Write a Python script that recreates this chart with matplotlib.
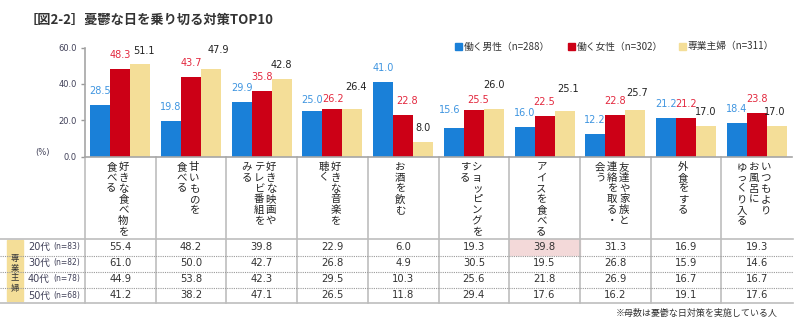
import numpy as np
import matplotlib.pyplot as plt
from matplotlib.transforms import blended_transform_factory
from matplotlib.patches import Rectangle
from matplotlib.lines import Line2D

plt.rcParams['font.family'] = ['DejaVu Sans', 'Noto Sans CJK JP']

# 対策ごとの縦書きラベル（右の列から）
labels = [
    ["好きな食べ物を", "食べる"],
    ["甘いものを", "食べる"],
    ["好きな映画や", "テレビ番組を", "みる"],
    ["好きな音楽を", "聴く"],
    ["お酒を飲む"],
    ["ショッピングを", "する"],
    ["アイスを食べる"],
    ["友達や家族と", "連絡を取る・", "会う"],
    ["外食をする"],
    ["いつもより", "お風呂に", "ゆっくり入る"],
]
series_names = ["働く男性（n=288）", "働く女性（n=302）", "専業主婦（n=311）"]
male = [28.5, 19.8, 29.9, 25.0, 41.0, 15.6, 16.0, 12.2, 21.2, 18.4]
female = [48.3, 43.7, 35.8, 26.2, 22.8, 25.5, 22.5, 22.8, 21.2, 23.8]
housewife = [51.1, 47.9, 42.8, 26.4, 8.0, 26.0, 25.1, 25.7, 17.0, 17.0]

# 専業主婦の年代別
age_rows = ["20代", "30代", "40代", "50代"]
age_n = ["(n=83)", "(n=82)", "(n=78)", "(n=68)"]
age_values = [
    [55.4, 48.2, 39.8, 22.9, 6.0, 19.3, 39.8, 31.3, 16.9, 19.3],
    [61.0, 50.0, 42.7, 26.8, 4.9, 30.5, 19.5, 26.8, 15.9, 14.6],
    [44.9, 53.8, 42.3, 29.5, 10.3, 25.6, 21.8, 26.9, 16.7, 16.7],
    [41.2, 38.2, 47.1, 26.5, 11.8, 29.4, 17.6, 16.2, 19.1, 17.6],
]

W, H = 800, 326
bar_colors = ["#1a80d8", "#cc0016", "#f4de98"]
text_colors = ["#3f95e0", "#e3283e", "#222222"]
grid_col = "#bdbdbd"

# 重なりを避けるための数値ラベルの位置調整 (px)
label_nudge = {
    (0, 2): (4, 1.5), (1, 2): (7, -5), (3, 0): (0, 2.5), (3, 1): (1, 4.5),
    (3, 2): (3.5, -8), (4, 1): (4, 0), (5, 0): (-4, -4.5), (5, 1): (4.5, 3.5),
    (5, 2): (0, -10), (6, 2): (4, -8), (7, 2): (1.5, -3), (9, 2): (-1.5, 0),
}


def fx(px):
    return px / W


def fy(py):
    return 1 - py / H


fig = plt.figure(figsize=(8, 3.26), dpi=100)
ax = fig.add_axes([fx(85), fy(156.5), 707 / W, 109 / H])
px_per_unit = 70.7

x = np.arange(len(labels))
bw = 0.283
for k, vals in enumerate([male, female, housewife]):
    bars = ax.bar(x + (k - 1) * bw, vals, bw, color=bar_colors[k], zorder=2)
    for i, (b, v) in enumerate(zip(bars, vals)):
        dx, dy = label_nudge.get((i, k), (0, 0))
        ax.annotate(f"{v:.1f}", (b.get_x() + b.get_width() / 2, v),
                    xytext=(dx, 14 - dy), textcoords="offset pixels",
                    ha="center", va="center", fontsize=7,
                    color=text_colors[k], zorder=3)

ax.set_xlim(-0.5, 9.5)
ax.set_ylim(0, 60)
ax.set_yticks([0, 20, 40, 60])
ax.set_yticklabels(["0.0", "20.0", "40.0", "60.0"])
ax.tick_params(axis="y", direction="out", length=3, width=1, color="#999999",
               labelsize=6, labelcolor="#404058", pad=3)
ax.set_xticks([])
for s in ["top", "right"]:
    ax.spines[s].set_visible(False)
for s in ["left", "bottom"]:
    ax.spines[s].set_color("#a6a6a6")
    ax.spines[s].set_linewidth(1.2)
ax.patch.set_alpha(0)

fig.text(fx(42), fy(153), "(%)", fontsize=6, color="#404058",
         ha="center", va="center")

bt = blended_transform_factory(ax.transData, fig.transFigure)

# 強調セル
ax.add_patch(Rectangle((5.5, fy(255)), 1.0, fy(238.5) - fy(255),
                       transform=bt, color="#f3d9d9", clip_on=False, zorder=0))

# 表の罫線
for d in np.arange(-0.5, 9, 1.0):
    ax.add_line(Line2D([d, d], [fy(156.5), fy(303)], transform=bt,
                       color=grid_col, lw=1.2, clip_on=False))
for py in [238.5, 302.5]:
    fig.add_artist(Line2D([0, fx(793)], [fy(py), fy(py)], color=grid_col, lw=1.2))
for py in [255.5, 271.5, 287.5]:
    fig.add_artist(Line2D([0, fx(793)], [fy(py), fy(py)], color="#9a9a9a",
                          lw=0.8, linestyle=(0, (1, 1))))

# 縦書きの対策名
for i, cols in enumerate(labels):
    n = len(cols)
    for j, col in enumerate(cols):
        off = ((n - 1) / 2 - j) * 12 - 3
        for k, ch in enumerate(col):
            ax.text(i + off / px_per_unit, fy(167 + k * 10.8), ch, transform=bt,
                    ha="center", va="center", fontsize=7.5,
                    family=["Noto Sans CJK JP"], color="#222222")

# 年代別の表
row_y = [247, 263, 279, 295.5]
for r, (name, nn, vals) in enumerate(zip(age_rows, age_n, age_values)):
    fig.text(fx(28), fy(row_y[r]), name, fontsize=7, color="#404058",
             ha="left", va="center")
    fig.text(fx(53), fy(row_y[r]), nn, fontsize=5.5, color="#404058",
             ha="left", va="center")
    for i, v in enumerate(vals):
        ax.text(i, fy(row_y[r]), f"{v:.1f}", transform=bt, ha="center",
                va="center", fontsize=7.2, color="#333333")

fig.patches.append(Rectangle((fx(7), fy(301)), fx(16), fy(240) - fy(301),
                             transform=fig.transFigure, color="#f4de98"))
for k, ch in enumerate("専業主婦"):
    fig.text(fx(15), fy(258 + k * 10), ch, fontsize=6, color="#333333",
             ha="center", va="center", family=["Noto Sans CJK JP"])

# 凡例
for k, (lx, name) in enumerate(zip([455, 568, 679], series_names)):
    fig.patches.append(Rectangle((fx(lx), fy(50)), fx(7), fy(43) - fy(50),
                                 transform=fig.transFigure, color=bar_colors[k]))
    fig.text(fx(lx + 9), fy(46.5), name, fontsize=7, color="#333333",
             ha="left", va="center", family=["Noto Sans CJK JP", "DejaVu Sans"])

fig.text(fx(25), fy(20), "［図2-2］憂鬱な日を乗り切る対策TOP10", fontsize=9.5,
         fontweight="bold", color="#333333", ha="left", va="center",
         family=["Noto Sans CJK JP", "DejaVu Sans"])
fig.text(fx(778), fy(313), "※母数は憂鬱な日対策を実施している人", fontsize=6.5,
         color="#333333", ha="right", va="center",
         family=["Noto Sans CJK JP", "DejaVu Sans"])

fig.savefig("out.png", dpi=100)
